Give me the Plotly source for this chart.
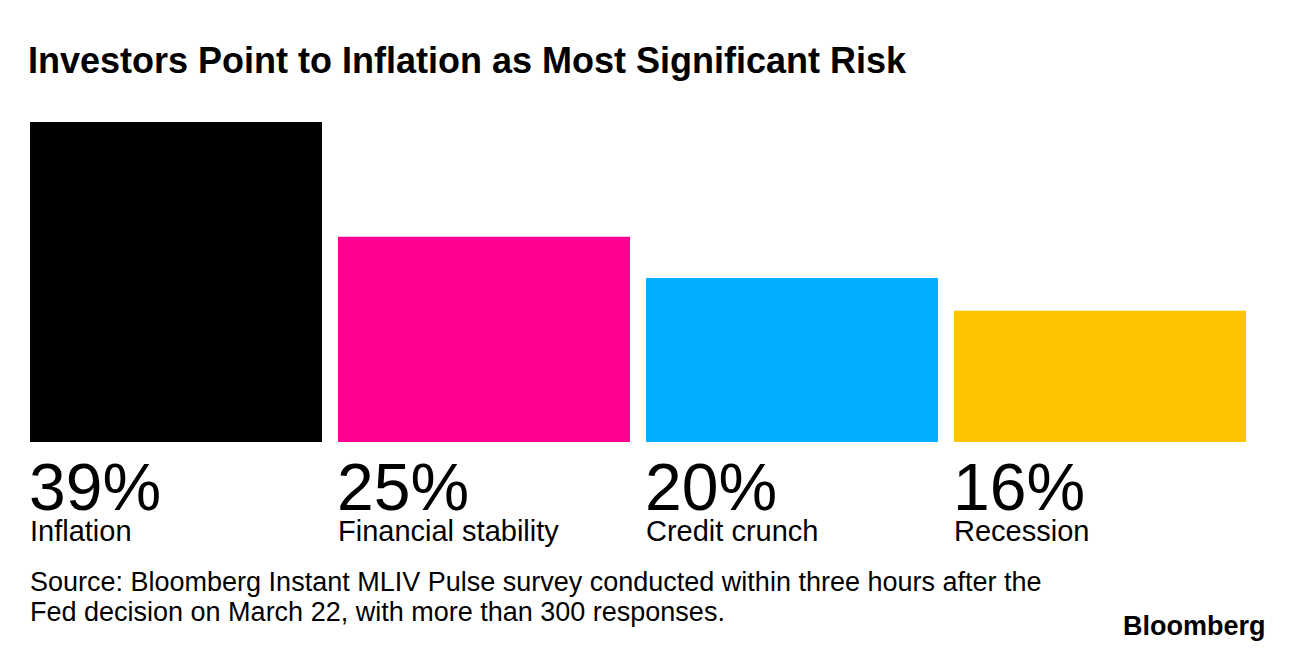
import plotly.graph_objects as go

categories = ["Inflation", "Financial stability", "Credit crunch", "Recession"]
values = [39, 25, 20, 16]
value_labels = ["39%", "25%", "20%", "16%"]
colors = ["#000000", "#ff0090", "#00aeff", "#ffc300"]

title = "Investors Point to Inflation as Most Significant Risk"
source_lines = [
    "Source: Bloomberg Instant MLIV Pulse survey conducted within three hours after the",
    "Fed decision on March 22, with more than 300 responses.",
]

# page body has an 8px margin, so the figure is sized to fit the window
W, H = 1288, 644
ml, mr, mt, mb = 14, 42, 114, 210
bargap = 16 / 308
half = (1 - bargap) / 2
FONT = "Liberation Sans, Arial, Helvetica, sans-serif"
pw = W - ml - mr


def px(xpage):
    return (xpage - 8 - ml) / pw


fig = go.Figure(go.Bar(
    x=list(range(len(categories))), y=values,
    marker=dict(color=colors, line=dict(width=0)),
    hoverinfo="skip",
))

ann = []
for i, (lab, cat) in enumerate(zip(value_labels, categories)):
    ann.append(dict(x=i - half, y=0, xref="x", yref="y", text=lab, showarrow=False,
                    xanchor="left", yanchor="middle", yshift=-45, xshift=-3,
                    font=dict(family=FONT, size=66, color="#000000")))
    ann.append(dict(x=i - half, y=0, xref="x", yref="y", text=cat, showarrow=False,
                    xanchor="left", yanchor="middle", yshift=-89, xshift=-2,
                    font=dict(family=FONT, size=29, color="#000000")))

for k, line in enumerate(source_lines):
    ann.append(dict(x=px(30), y=0, xref="paper", yref="y", text=line,
                    showarrow=False, xanchor="left", yanchor="middle",
                    yshift=-140 - 30 * k, xshift=-2,
                    align="left", font=dict(family=FONT, size=27, color="#000000")))

ann.append(dict(x=px(1268), y=0, xref="paper", yref="y", text="<b>Bloomberg</b>",
                showarrow=False, xanchor="right", yanchor="middle", yshift=-184,
                font=dict(family=FONT, size=27, color="#000000")))

fig.update_layout(
    width=W, height=H,
    margin=dict(l=ml, r=mr, t=mt, b=mb),
    paper_bgcolor="white", plot_bgcolor="white",
    bargap=bargap,
    showlegend=False,
    title=dict(text="<b>" + title + "</b>", xref="container", yref="container",
               x=20 / W, xanchor="left", y=1 - 52 / H, yanchor="middle",
               font=dict(family=FONT, size=36, color="#000000")),
    xaxis=dict(visible=False, range=[-0.5, 3.5], fixedrange=True),
    yaxis=dict(visible=False, range=[0, 39], fixedrange=True),
    annotations=ann,
)

fig.write_html("out.html", config={"displayModeBar": False})
